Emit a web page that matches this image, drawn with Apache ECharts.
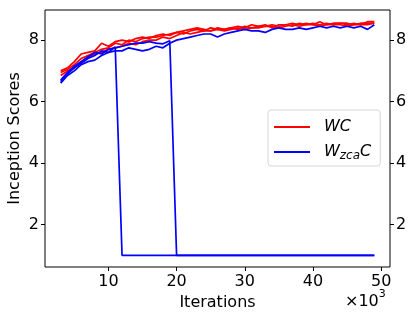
<!DOCTYPE html>
<html>
<head>
<meta charset="utf-8">
<script src="https://cdn.jsdelivr.net/npm/echarts@6/dist/echarts.min.js"></script>
<style>html,body{margin:0;padding:0;background:#fff;}#c{width:415px;height:319px;}</style>
</head>
<body>
<div id="c"></div>
<script>
// Iterations (x10^3)
const iters = [3,4,5,6,7,8,9,10,11,12,13,14,15,16,17,18,19,20,21,22,23,24,25,26,27,28,29,30,31,32,33,34,35,36,37,38,39,40,41,42,43,44,45,46,47,48,49];
const wc1 = [7.0,7.1,7.3,7.55,7.6,7.65,7.9,7.8,7.95,8.0,7.95,8.05,8.1,8.05,8.15,8.2,8.15,8.25,8.3,8.35,8.4,8.35,8.3,8.4,8.35,8.4,8.45,8.4,8.5,8.45,8.45,8.5,8.45,8.5,8.55,8.5,8.55,8.5,8.6,8.5,8.55,8.55,8.5,8.55,8.5,8.6,8.6];
const wc2 = [6.95,7.05,7.2,7.4,7.5,7.6,7.7,7.75,7.9,7.85,8.0,7.95,8.05,8.1,8.1,8.15,8.2,8.25,8.2,8.3,8.35,8.3,8.4,8.35,8.35,8.4,8.35,8.45,8.4,8.45,8.5,8.4,8.5,8.5,8.45,8.55,8.5,8.55,8.5,8.55,8.5,8.55,8.55,8.5,8.55,8.55,8.55];
const wc3 = [6.85,7.0,7.1,7.3,7.45,7.55,7.6,7.7,7.75,7.8,7.9,7.85,7.95,8.0,8.0,8.1,8.05,8.15,8.25,8.2,8.25,8.3,8.3,8.35,8.3,8.35,8.4,8.35,8.4,8.4,8.45,8.45,8.4,8.45,8.5,8.45,8.5,8.5,8.45,8.5,8.5,8.5,8.45,8.5,8.5,8.5,8.55];
const wzca1 = [6.6,6.85,7.0,7.2,7.3,7.35,7.5,7.6,7.65,7.65,7.75,7.7,7.65,7.7,7.8,7.75,7.9,8.0,8.05,8.1,8.15,8.2,8.2,8.1,8.2,8.25,8.3,8.35,8.3,8.3,8.25,8.35,8.4,8.35,8.35,8.4,8.35,8.4,8.45,8.4,8.45,8.4,8.45,8.4,8.45,8.35,8.5];
const wzca2 = [6.65,6.9,7.1,7.25,7.4,7.5,7.65,7.6,7.78,1.0,1.0,1.0,1.0,1.0,1.0,1.0,1.0,1.0,1.0,1.0,1.0,1.0,1.0,1.0,1.0,1.0,1.0,1.0,1.0,1.0,1.0,1.0,1.0,1.0,1.0,1.0,1.0,1.0,1.0,1.0,1.0,1.0,1.0,1.0,1.0,1.0,1.0];
const wzca3 = [6.7,6.95,7.15,7.3,7.45,7.6,7.55,7.7,7.75,7.8,7.85,7.9,7.9,7.95,7.9,7.88,7.98,1.0,1.0,1.0,1.0,1.0,1.0,1.0,1.0,1.0,1.0,1.0,1.0,1.0,1.0,1.0,1.0,1.0,1.0,1.0,1.0,1.0,1.0,1.0,1.0,1.0,1.0,1.0,1.0,1.0,1.0];
const xTicks = [10,20,30,40,50];
const yTicks = [2,4,6,8];

const FONT = 'DejaVu Sans';
const chart = echarts.init(document.getElementById('c'), null, {renderer:'canvas'});
const pair = arr => iters.map((x,i)=>[x,arr[i]]);
function line(name, color, arr){
  return {name, type:'line', data:pair(arr), symbol:'none', showSymbol:false, animation:false,
    lineStyle:{color, width:1.7}, itemStyle:{color}, emphasis:{disabled:true}, z:2};
}
const yAxisBase = (pos) => ({
  type:'value', position:pos, min:0.62, max:8.98,
  axisLine:{show:false},
  splitLine:{show:false},
  axisTick:{show:true, inside:false, length:4, customValues:yTicks, lineStyle:{color:'#000', width:1}},
  axisLabel:{show:true, customValues:yTicks, color:'#000', fontFamily:FONT, fontSize:16, margin:6}
});
chart.setOption({
  animation:false,
  grid:{left:45, right:25, top:10, bottom:52, outerBoundsMode:'none', containLabel:false,
    show:true, borderColor:'#000', borderWidth:1, backgroundColor:'transparent'},
  xAxis:{type:'value', min:0.7, max:51.3,
    name:'Iterations', nameLocation:'middle', nameGap:28, nameMoveOverlap:false,
    nameTextStyle:{color:'#000', fontFamily:FONT, fontSize:16},
    axisLine:{show:false}, splitLine:{show:false},
    axisTick:{show:true, length:4, customValues:xTicks, lineStyle:{color:'#000'}},
    axisLabel:{customValues:xTicks, color:'#000', fontFamily:FONT, fontSize:16, margin:7}},
  yAxis:[
    Object.assign(yAxisBase('left'), {name:'Inception Scores', nameLocation:'middle', nameGap:22, nameMoveOverlap:false,
      nameTextStyle:{color:'#000', fontFamily:FONT, fontSize:16}}),
    yAxisBase('right')
  ],
  legend:{
    show:true,
    data:[{name:'WC', icon:'rect'},{name:'WzcaC', icon:'rect'}], orient:'vertical', left:268, top:110,
    itemWidth:36, itemHeight:2, itemGap:9,
    padding:[9,9,4,6],
    backgroundColor:'rgba(255,255,255,0.8)', borderColor:'#d6d6d6', borderWidth:1, borderRadius:3,
    formatter: n => n==='WC' ? '{i|WC}' : '{i|W}{s|zca}{i|C}',
    textStyle:{color:'#000', fontFamily:FONT, fontSize:16, padding:[0,0,0,9],
      rich:{ i:{fontFamily:FONT, fontSize:16, lineHeight:20, fontStyle:'italic', color:'#000'},
             s:{fontFamily:FONT, fontSize:12, lineHeight:9, verticalAlign:'bottom', fontStyle:'italic', color:'#000'} }}
  },
  graphic:[{type:'text', left:345, top:289, style:{text:'{a|×10}{b|3}', fill:'#000',
    rich:{a:{fontFamily:FONT, fontSize:16, fill:'#000', padding:[6,0,0,0]}, b:{fontFamily:FONT, fontSize:11, fill:'#000', padding:[0,0,8,0]}}}}],
  series:[
    line('WC','#ff0000',wc1), line('WC','#ff0000',wc2), line('WC','#ff0000',wc3),
    line('WzcaC','#0000ff',wzca1), line('WzcaC','#0000ff',wzca2), line('WzcaC','#0000ff',wzca3)
  ]
});
</script>
</body>
</html>
